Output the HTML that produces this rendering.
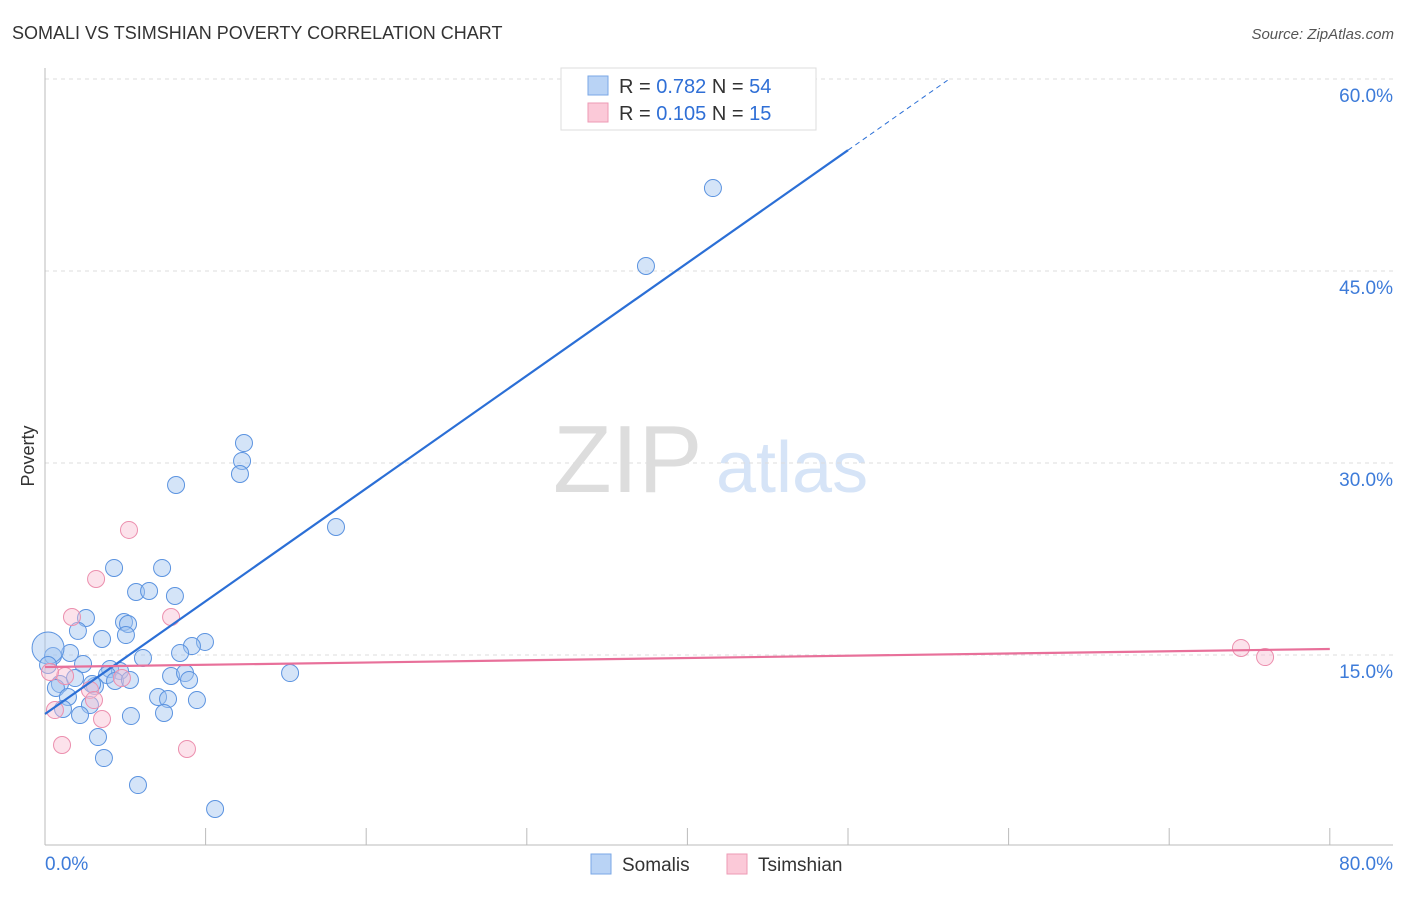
<!DOCTYPE html>
<html><head><meta charset="utf-8"><style>
body{margin:0;background:#fff;font-family:"Liberation Sans",sans-serif}
svg text{font-family:"Liberation Sans",sans-serif}
</style></head><body>
<svg id="chart" width="1406" height="892" xmlns="http://www.w3.org/2000/svg">
<text x="12" y="39" font-size="18" fill="#333">SOMALI VS TSIMSHIAN POVERTY CORRELATION CHART</text>
<text x="1394" y="39" font-size="15" fill="#555" font-style="italic" text-anchor="end">Source: ZipAtlas.com</text>
<g>
<text x="553" y="492" font-size="96" fill="#ddd" font-family="Liberation Serif,serif">ZIP</text>
<text x="716" y="492" font-size="72" fill="#d6e4f7">atlas</text>
</g>
<g id="grid"></g><g id="axes"></g><g id="pts"></g><g id="lines"></g>
<text transform="translate(34,456) rotate(-90)" font-size="18" fill="#333" text-anchor="middle">Poverty</text>
<g>
<rect x="561" y="68" width="255" height="62" fill="#fff" stroke="#ddd"/>
<rect x="588" y="76" width="20" height="19" fill="#b9d3f5" stroke="#7aa7e6"/>
<rect x="588" y="103" width="20" height="19" fill="#fbc9d8" stroke="#ee9ab5"/>
<text x="619" y="93" font-size="20" fill="#333">R = <tspan fill="#2f6fd6">0.782</tspan>   N = <tspan fill="#2f6fd6">54</tspan></text>
<text x="619" y="120" font-size="20" fill="#333">R = <tspan fill="#2f6fd6">0.105</tspan>   N =  <tspan fill="#2f6fd6">15</tspan></text>
</g>
<g>
<rect x="591" y="854" width="20" height="20" fill="#b9d3f5" stroke="#7aa7e6"/>
<text x="622" y="871" font-size="19" fill="#333">Somalis</text>
<rect x="727" y="854" width="20" height="20" fill="#fbc9d8" stroke="#ee9ab5"/>
<text x="758" y="871" font-size="19" fill="#333">Tsimshian</text>
</g>
</svg>
<script>
const yTicks=[15,30,45,60];
const yTickLabels=["15.0%","30.0%","45.0%","60.0%"];
const xTicks=[0,10,20,30,40,50,60,70,80];
const somaliX=[12.39,12.27,12.14,8.16,18.12,4.30,7.29,5.67,6.48,8.09,2.55,4.92,5.17,5.04,2.05,3.55,9.96,9.15,8.41,6.10,1.56,0.50,0.19,2.37,4.05,4.67,3.86,4.36,7.85,8.72,8.97,15.26,0.93,0.68,3.11,2.93,1.43,7.04,7.66,9.46,2.80,1.12,2.18,5.35,7.41,3.30,3.67,5.79,10.59,37.42,41.59,0.19,1.87,5.29];
const somaliY=[31.56,30.16,29.14,28.28,25.0,21.8,21.8,19.92,20.0,19.61,17.89,17.58,17.42,16.56,16.88,16.25,16.02,15.70,15.16,14.77,15.16,14.92,15.55,14.30,13.91,13.75,13.44,12.97,13.36,13.59,13.05,13.59,12.73,12.42,12.58,12.73,11.72,11.72,11.56,11.48,11.09,10.78,10.31,10.23,10.47,8.59,6.95,4.84,2.97,45.39,51.48,14.22,13.20,13.05];
const tsimX=[5.23,3.18,1.68,7.85,4.79,1.25,2.80,3.05,3.55,0.62,1.06,8.84,74.47,75.97,0.31];
const tsimY=[24.77,20.94,17.97,17.97,13.20,13.36,12.27,11.48,10.0,10.70,7.97,7.66,15.55,14.84,13.67];
const somaliLine=[10.39,0.881];
const tsimLine=[14.06,15.47];
const X=v=>45+v*16.06, Y=v=>847-v*12.8;
const NS="http://www.w3.org/2000/svg";
function mk(p,t,a){const e=document.createElementNS(NS,t);for(const k in a)e.setAttribute(k,a[k]);document.getElementById(p).appendChild(e);return e;}
yTicks.forEach((t,i)=>{
 const g=mk('grid','line',{x1:45,x2:1393,y1:Y(t),y2:Y(t),stroke:'#ddd','stroke-dasharray':'4,4'});
 
 
 const l=mk('grid','text',{x:1393,y:Y(t)+23,'font-size':19,fill:'#3d7bd9','text-anchor':'end'});
 l.textContent=yTickLabels[i];
 
 
});
const ax=mk('axes','line',{x1:45,x2:45,y1:68,y2:845,stroke:'#bbb'});


const bx=mk('axes','line',{x1:45,x2:1393,y1:845,y2:845,stroke:'#bbb'});


xTicks.forEach(t=>{
 const k=mk('axes','line',{x1:X(t),x2:X(t),y1:828,y2:845,stroke:'#bbb'});
 
 
});
const x0=mk('axes','text',{x:45,y:870,'font-size':19,fill:'#3d7bd9'});x0.textContent=xTicks[0].toFixed(1)+'%';


const x1=mk('axes','text',{x:1393,y:870,'font-size':19,fill:'#3d7bd9','text-anchor':'end'});x1.textContent=xTicks[xTicks.length-1].toFixed(1)+'%';


somaliX.forEach((v,i)=>{
 const big=(i===22);
 const c=mk('pts','circle',{cx:X(v),cy:Y(somaliY[i]),r:big?16:8.5,fill:'rgba(160,195,240,0.45)',stroke:'#5b93e0','stroke-width':1});
 
 
});
tsimX.forEach((v,i)=>{
 const c=mk('pts','circle',{cx:X(v),cy:Y(tsimY[i]),r:8.5,fill:'rgba(248,190,210,0.45)',stroke:'#ec8fae','stroke-width':1});
 
 
});
const f=x=>somaliLine[0]+somaliLine[1]*x;
const s1=mk('lines','line',{x1:X(0),y1:Y(f(0)),x2:X(50),y2:Y(f(50)),stroke:'#2b6fd6','stroke-width':2.2});


const s2=mk('lines','line',{x1:X(50),y1:Y(f(50)),x2:X(56.2),y2:Y(f(56.2)),stroke:'#2b6fd6','stroke-width':1,'stroke-dasharray':'5,4'});


const t1=mk('lines','line',{x1:X(0),y1:Y(tsimLine[0]),x2:X(80),y2:Y(tsimLine[1]),stroke:'#e8709a','stroke-width':2.2});


</script>
</body></html>
